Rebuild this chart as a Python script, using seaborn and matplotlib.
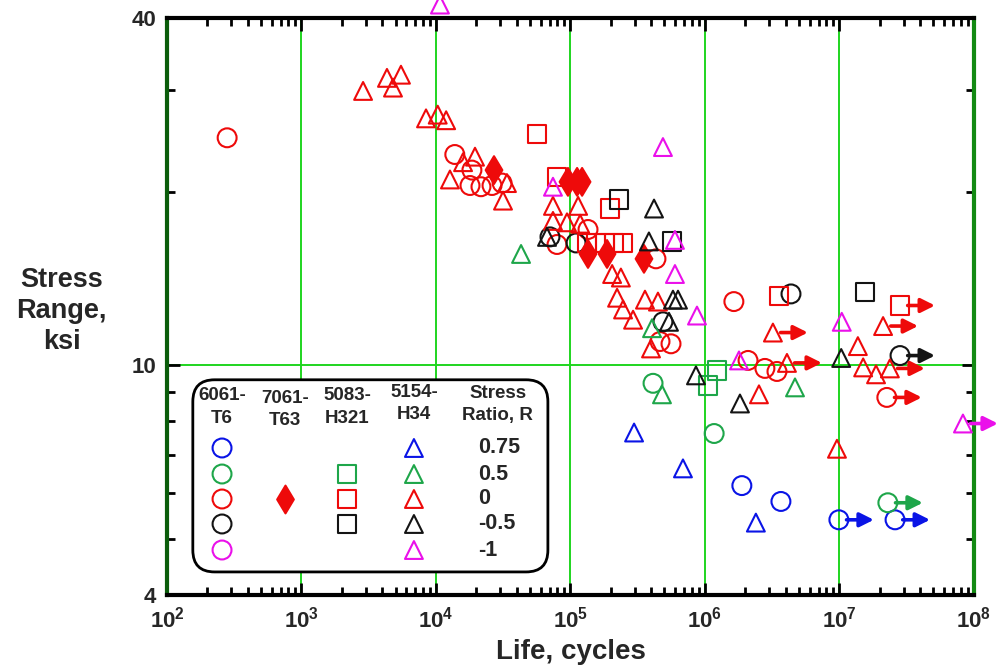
import numpy as np
import pandas as pd
import matplotlib
matplotlib.use("Agg")
import matplotlib.pyplot as plt
import seaborn as sns
from matplotlib.patches import FancyBboxPatch
from matplotlib.ticker import FixedLocator, NullFormatter, LogLocator

# ---------------- data (Life N in cycles, Stress range S in ksi) ----------------
# 6061-T6 (circles)
t6_075_N = [1.88e6, 3.67e6, 9.9e6, 2.59e7]
t6_075_S = [6.19, 5.81, 5.40, 5.40]
t6_075_run = [0, 0, 1, 1]

t6_05_N = [4.11e5, 1.17e6, 2.29e7]
t6_05_S = [9.31, 7.62, 5.78]
t6_05_run = [0, 0, 1]

t6_0_N = [280, 1.38e4, 1.85e4, 1.79e4, 2.16e4, 2.61e4, 3.10e4, 7.94e4, 1.35e5,
          4.32e5, 4.63e5, 5.59e5, 1.64e6, 2.09e6, 2.79e6, 3.43e6, 2.25e7]
t6_0_S = [24.8, 23.2, 21.8, 20.5, 20.4, 20.5, 20.7, 16.2, 17.2,
          15.3, 11.0, 10.9, 12.9, 10.2, 9.88, 9.76, 8.8]
t6_0_run = [0] * 16 + [1]

t6_m05_N = [7.04e4, 1.10e5, 4.87e5, 4.36e6, 2.82e7]
t6_m05_S = [16.7, 16.3, 11.9, 13.3, 10.4]
t6_m05_run = [0, 0, 0, 0, 1]

# 7061-T63 (diamonds)
t63_0_N = [2.70e4, 9.58e4, 1.12e5, 1.22e5, 1.35e5, 1.87e5, 3.52e5]
t63_0_S = [21.8, 20.8, 20.8, 20.8, 15.6, 15.6, 15.3]
t63_0_run = [0] * 7

# 5083-H321 (squares)
h321_05_N = [1.23e6, 1.05e6]
h321_05_S = [9.80, 9.23]
h321_05_run = [0, 0]

h321_0_N = [5.64e4, 7.94e4, 1.97e5, 1.33e5, 1.55e5, 1.81e5, 2.11e5, 2.46e5, 3.55e6, 2.82e7]
h321_0_S = [25.2, 21.2, 18.7, 16.3, 16.3, 16.3, 16.3, 16.3, 13.2, 12.7]
h321_0_run = [0] * 9 + [1]

h321_m05_N = [2.29e5, 5.69e5, 1.55e7]
h321_m05_S = [19.4, 16.4, 13.4]
h321_m05_run = [0, 0, 0]

# 5154-H34 (triangles)
h34_075_N = [2.97e5, 6.86e5, 2.39e6]
h34_075_S = [7.65, 6.63, 5.34]
h34_075_run = [0, 0, 0]

h34_05_N = [4.29e4, 4.04e5, 4.79e5, 4.67e6]
h34_05_S = [15.6, 11.6, 8.91, 9.16]
h34_05_run = [0, 0, 0, 0]

h34_0_N = [2.87e3, 4.32e3, 5.49e3, 4.79e3, 8.43e3, 1.03e4, 1.19e4, 1.95e4, 1.59e4, 1.27e4,
           3.37e4, 3.15e4, 7.41e4, 1.14e5, 7.41e4, 9.42e4, 1.18e5, 2.04e5, 2.37e5, 2.22e5,
           2.46e5, 2.92e5, 3.58e5, 4.47e5, 3.97e5, 3.20e6, 2.11e7, 1.37e7, 4.07e6, 1.50e7,
           1.87e7, 2.37e7, 2.52e6, 9.58e6]
h34_0_S = [29.9, 31.5, 31.9, 30.3, 26.8, 27.2, 26.6, 23.0, 22.5, 21.0,
           20.7, 19.3, 18.9, 18.9, 17.8, 17.7, 17.6, 14.4, 14.2, 13.1,
           12.5, 12.0, 13.0, 12.9, 10.7, 11.4, 11.7, 10.8, 10.1, 9.92,
           9.65, 9.88, 8.91, 7.17]
h34_0_run = [0] * 25 + [1, 1, 0, 1, 0, 0, 1, 0, 0]

h34_m05_N = [6.69e4, 4.18e5, 3.83e5, 5.78e5, 6.30e5, 5.40e5, 8.57e5, 1.82e6, 1.03e7]
h34_m05_S = [16.7, 18.7, 16.4, 13.0, 13.0, 11.9, 9.61, 8.59, 10.3]
h34_m05_run = [0] * 9

h34_m1_N = [1.07e4, 7.41e4, 4.87e5, 5.98e5, 5.98e5, 8.72e5, 1.79e6, 1.04e7, 8.28e7]
h34_m1_S = [42.2, 20.4, 23.9, 16.5, 14.4, 12.2, 10.2, 11.9, 7.93]
h34_m1_run = [0] * 8 + [1]

alloys = ["6061-T6", "7061-T63", "5083-H321", "5154-H34"]
alloy_headers = ["6061-\nT6", "7061-\nT63", "5083-\nH321", "5154-\nH34"]
ratios = ["0.75", "0.5", "0", "-0.5", "-1"]

series = [
    ("6061-T6", "0.75", t6_075_N, t6_075_S, t6_075_run),
    ("6061-T6", "0.5", t6_05_N, t6_05_S, t6_05_run),
    ("6061-T6", "0", t6_0_N, t6_0_S, t6_0_run),
    ("6061-T6", "-0.5", t6_m05_N, t6_m05_S, t6_m05_run),
    ("7061-T63", "0", t63_0_N, t63_0_S, t63_0_run),
    ("5083-H321", "0.5", h321_05_N, h321_05_S, h321_05_run),
    ("5083-H321", "0", h321_0_N, h321_0_S, h321_0_run),
    ("5083-H321", "-0.5", h321_m05_N, h321_m05_S, h321_m05_run),
    ("5154-H34", "0.75", h34_075_N, h34_075_S, h34_075_run),
    ("5154-H34", "0.5", h34_05_N, h34_05_S, h34_05_run),
    ("5154-H34", "0", h34_0_N, h34_0_S, h34_0_run),
    ("5154-H34", "-0.5", h34_m05_N, h34_m05_S, h34_m05_run),
    ("5154-H34", "-1", h34_m1_N, h34_m1_S, h34_m1_run),
]

rows = []
for alloy, r, N, S, run in series:
    for n, s, ru in zip(N, S, run):
        rows.append({"alloy": alloy, "R": r, "N": n, "S": s, "runout": ru})
df = pd.DataFrame(rows)

# ---------------- styles ----------------
palette = {"0.75": "#0a14e6", "0.5": "#1ea64a", "0": "#ee0a0a", "-0.5": "#141414", "-1": "#ea10ea"}
markers = {"6061-T6": "o", "7061-T63": "d", "5083-H321": "s", "5154-H34": "^"}
sizes = {"6061-T6": 185, "7061-T63": 200, "5083-H321": 175, "5154-H34": 165}
hollow = {"6061-T6": True, "7061-T63": False, "5083-H321": True, "5154-H34": True}

sns.set_theme(style="white")
plt.rcParams["font.family"] = ["Liberation Sans", "DejaVu Sans"]
plt.rcParams["font.weight"] = "bold"
plt.rcParams["mathtext.fontset"] = "custom"
plt.rcParams["mathtext.rm"] = "Liberation Sans:bold"
plt.rcParams["mathtext.bf"] = "Liberation Sans:bold"
plt.rcParams["mathtext.it"] = "Liberation Sans:bold"
plt.rcParams["mathtext.default"] = "rm"

fig = plt.figure(figsize=(9.97, 6.69), dpi=100)
ax = fig.add_axes([0.1675, 0.1106, 0.8094, 0.8625])
ax.set_xscale("log")
ax.set_yscale("log")

for alloy in alloys:
    sub = df[df["alloy"] == alloy]
    sns.scatterplot(data=sub, x="N", y="S", hue="R", palette=palette, hue_order=ratios,
                    marker=markers[alloy], s=sizes[alloy], linewidth=1.5,
                    legend=False, ax=ax, zorder=3)
    coll = ax.collections[-1]
    fc = coll.get_facecolors()
    coll.set_edgecolors(fc)
    if hollow[alloy]:
        coll.set_facecolor("none")
    coll.set_clip_on(False)

# run-out arrows
for _, row in df[df["runout"] == 1].iterrows():
    ax.annotate("", xy=(row["N"] * 1.82, row["S"]), xytext=(row["N"] * 1.14, row["S"]),
                arrowprops=dict(arrowstyle="-|>,head_length=0.6,head_width=0.3",
                                color=palette[row["R"]], lw=2.6, mutation_scale=14,
                                shrinkA=0, shrinkB=0),
                annotation_clip=False, zorder=4)

ax.set_xlim(1e2, 1e8)
ax.set_ylim(4, 40)

# grid
ax.set_axisbelow(True)
ax.grid(True, which="major", color="#1fd51f", lw=1.4)
ax.grid(False, which="minor")

# ticks
ax.set_xticks([10.0 ** k for k in range(2, 9)])
ax.set_xticklabels([f"$10^{{{k}}}$" for k in range(2, 9)])
ax.xaxis.set_minor_locator(LogLocator(base=10, subs=range(2, 10), numticks=20))
ax.xaxis.set_minor_formatter(NullFormatter())
ax.set_yticks([4, 10, 40])
ax.set_yticklabels(["4", "10", "40"])
ax.yaxis.set_minor_locator(FixedLocator([5, 6, 7, 8, 9, 20, 30]))
ax.yaxis.set_minor_formatter(NullFormatter())
ax.tick_params(which="both", direction="in", top=True, right=True, bottom=True, left=True,
               color="black", width=2)
ax.tick_params(which="major", length=9, labelsize=16, pad=8)
ax.tick_params(which="minor", length=6)
ax.set_xlim(1e2, 1e8)
ax.set_ylim(4, 40)

for side in ["top", "bottom"]:
    ax.spines[side].set_color("black")
    ax.spines[side].set_linewidth(3)
ax.spines["left"].set_color("#0b5d0b")
ax.spines["left"].set_linewidth(3)
ax.spines["right"].set_color("#138a13")
ax.spines["right"].set_linewidth(3)

ax.set_xlabel("Life, cycles", fontsize=20, fontweight="bold", labelpad=5)
ax.set_ylabel("")
fig.text(0.062, 0.535, "Stress\nRange,\nksi", ha="center", va="center",
         fontsize=19.5, fontweight="bold", linespacing=1.25)

# ---------------- custom legend box ----------------
box = FancyBboxPatch((0.032, 0.040), 0.440, 0.333,
                     boxstyle="round,pad=0,rounding_size=0.027", mutation_aspect=1.4,
                     transform=ax.transAxes, fc="white", ec="black", lw=2, zorder=5,
                     clip_on=False)
ax.add_patch(box)

col_x = {"6061-T6": 0.0682, "7061-T63": 0.146, "5083-H321": 0.223, "5154-H34": 0.306}
row_y = {"0.75": 0.2548, "0.5": 0.2097, "0": 0.1664, "-0.5": 0.1231, "-1": 0.0780}
header_y = {"6061-T6": 0.326, "7061-T63": 0.322, "5083-H321": 0.326, "5154-H34": 0.332}

for alloy, head in zip(alloys, alloy_headers):
    ax.text(col_x[alloy], header_y[alloy], head, transform=ax.transAxes, ha="center",
            va="center", fontsize=13.5, fontweight="bold", linespacing=1.4, zorder=6)
ax.text(0.410, 0.330, "Stress\nRatio, R", transform=ax.transAxes, ha="center", va="center",
        fontsize=13.5, fontweight="bold", linespacing=1.4, zorder=6)
for r in ratios:
    ax.text(0.386, row_y[r], r, transform=ax.transAxes, ha="left", va="center",
            fontsize=15.5, fontweight="bold", zorder=6)

for alloy, r, N, S, run in series:
    mk = markers[alloy]
    face = "none" if hollow[alloy] else palette[r]
    ax.scatter([col_x[alloy]], [row_y[r]], transform=ax.transAxes, marker=mk,
               s=sizes[alloy], facecolors=face, edgecolors=palette[r], linewidths=1.5,
               zorder=6, clip_on=False)
# 6061-T6 at R=-1 appears in the key (no data points)
ax.scatter([col_x["6061-T6"]], [row_y["-1"]], transform=ax.transAxes, marker="o",
           s=sizes["6061-T6"], facecolors="none", edgecolors=palette["-1"], linewidths=1.5,
           zorder=6, clip_on=False)

fig.savefig("out.png", dpi=100)
